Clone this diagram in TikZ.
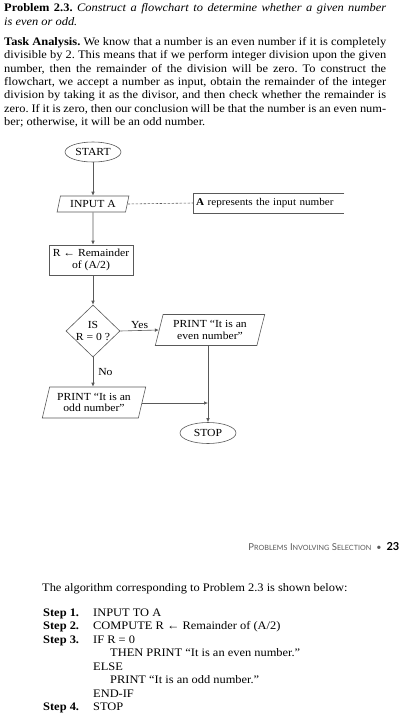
\documentclass[tikz,border=0pt]{standalone}
\usepackage{fontspec}
\setmainfont[FakeStretch=1.08]{Liberation Serif}
\newfontfamily\hdrfont{Lato}
\usetikzlibrary{shapes.geometric,arrows.meta}
\definecolor{linegray}{gray}{0.35}
\definecolor{hdrgray}{gray}{0.35}
\frenchspacing
\newcommand\myhsc[2]{{\fontsize{9.5}{10}\selectfont #1}{\fontsize{7.2}{8}\selectfont #2}}
\newcommand\jline[1]{\makebox[382pt][s]{#1}}
\begin{document}
\begin{tikzpicture}[x=1pt,y=-1pt,
  body/.style={anchor=base west,inner sep=0pt,font=\fontsize{11.5}{13}\selectfont},
  fl/.style={draw=linegray,line width=0.6pt},
  arr/.style={fl,-{Latex[length=4pt,width=3.5pt]}},
  ftext/.style={font=\fontsize{10.8}{11.5}\selectfont,align=center,text=black},
  term/.style={ellipse,fl,ftext,inner sep=0pt,minimum width=56pt,minimum height=20pt},
  io/.style={trapezium,trapezium left angle=72,trapezium right angle=108,trapezium stretches=true,fl,ftext,inner sep=0pt},
  proc/.style={rectangle,fl,ftext,inner sep=0pt,minimum width=84pt,minimum height=30pt},
  dec/.style={diamond,fl,inner sep=0pt,minimum width=54pt,minimum height=52pt},
  lbl/.style={font=\fontsize{10.8}{11.5}\selectfont,inner sep=0pt}
]
\useasboundingbox (0,0) rectangle (402,720);

% ---- header text ----
\node[body] (t1) at (4,11) {\jline{\textbf{Problem 2.3.} \textit{Construct a flowchart to determine whether a given number}}};
\node[body] (t2) at (4,25) {\textit{is even or odd.}};
\node[body] (p1) at (4,45.5) {\jline{\textbf{Task Analysis.} We know that a number is an even number if it is completely}};
\node[body] (p2) at (4,58.8) {\jline{divisible by 2. This means that if we perform integer division upon the given}};
\node[body] (p3) at (4,72.1) {\jline{number, then the remainder of the division will be zero. To construct the}};
\node[body] (p4) at (4,85.4) {\jline{flowchart, we accept a number as input, obtain the remainder of the integer}};
\node[body] (p5) at (4,98.7) {\jline{division by taking it as the divisor, and then check whether the remainder is}};
\node[body] (p6) at (4,112) {\jline{zero. If it is zero, then our conclusion will be that the number is an even num-}};
\node[body] (p7) at (4,125.3) {ber; otherwise, it will be an odd number.};

% ---- flowchart ----
\node[term] (start) at (93,152) {START};
\node[io,minimum width=72pt,minimum height=16pt] (input) at (93,204) {INPUT A};
\node[ftext,font=\fontsize{10.3}{11}\selectfont,anchor=west,text width=145pt,align=left,inner xsep=3pt,inner ysep=0pt,minimum height=20pt] (ann) at (193,203) {\textbf{A} represents the input number};
\draw[fl] (ann.north east) -- (ann.north west) -- (ann.south west) -- (ann.south east);
\node[proc] (rem) at (91,260) {R ← Remainder\\of (A/2)};
\node[dec] (dec) at (93,331) {};
\node[ftext,inner sep=0pt] (dectext) at (93,331) {IS\\R = 0 ?};
\node[io,minimum width=110pt,minimum height=31pt] (even) at (210,330) {PRINT “It is an\\even number”};
\node[io,minimum width=104pt,minimum height=31pt] (odd) at (94,402.5) {PRINT “It is an\\odd number”};
\node[term,minimum height=21pt] (stop) at (208,433) {STOP};
\coordinate (join) at (208,403);

\draw[arr] (start) -- (input);
\draw[fl,dash pattern=on 2.5pt off 1.5pt] (input.east) -- (ann.west);
\draw[arr] (input) -- (input |- rem.north);
\draw[arr] (rem.south -| dec.north) -- (dec.north);
\draw[arr] (dec.east) -- node[lbl,above=2pt] {Yes} (even.west);
\draw[arr] (dec.south) -- node[lbl,right=5pt] {No} (dec.south |- odd.north);
\draw[arr] (stop.north |- even.south) -- (stop.north);
\draw[arr] (odd.east |- join) -- (join);

% ---- page header ----
\node[anchor=base east,inner sep=0pt,font=\hdrfont] (hdr) at (399.5,550.5)
  {{\color{hdrgray}\myhsc{P}{ROBLEMS} \myhsc{I}{NVOLVING} \myhsc{S}{ELECTION}\enspace\fontsize{9}{9}\selectfont•}\enspace{\fontsize{11}{11}\selectfont\bfseries 23}};

% ---- algorithm ----
\node[body] (a0) at (42,591) {The algorithm corresponding to Problem 2.3 is shown below:};
\node[body] (s1) at (43,616) {\textbf{Step 1.}};
\node[body] (c1) at (93,616) {INPUT TO A};
\node[body] (s2) at (43,629.5) {\textbf{Step 2.}};
\node[body] (c2) at (93,629.5) {COMPUTE R ← Remainder of (A/2)};
\node[body] (s3) at (43,643) {\textbf{Step 3.}};
\node[body] (c3) at (93,643) {IF R = 0};
\node[body] (c4) at (110,656.5) {THEN PRINT “It is an even number.”};
\node[body] (c5) at (93,670) {ELSE};
\node[body] (c6) at (110,683.5) {PRINT “It is an odd number.”};
\node[body] (c7) at (93,697) {END-IF};
\node[body] (s4) at (43,710.5) {\textbf{Step 4.}};
\node[body] (c8) at (93,710.5) {STOP};
\end{tikzpicture}
\end{document}
